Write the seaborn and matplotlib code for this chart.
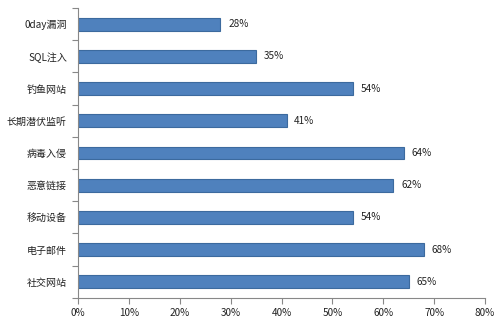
import matplotlib
matplotlib.use("Agg")
import matplotlib.pyplot as plt
import seaborn as sns
import pandas as pd
import numpy as np

categories = ["0day漏洞", "SQL注入", "钓鱼网站", "长期潜伏监听", "病毒入侵",
              "恶意链接", "移动设备", "电子邮件", "社交网站"]
values = [28, 35, 54, 41, 64, 62, 54, 68, 65]
xticks = [0, 10, 20, 30, 40, 50, 60, 70, 80]

sns.set_theme(style="white")
plt.rcParams['font.family'] = ['Noto Sans CJK SC', 'DejaVu Sans']

df = pd.DataFrame({"cat": categories, "val": values})

fig = plt.figure(figsize=(5, 3.22), dpi=100)
ax = fig.add_axes([0.156, 0.075, 0.814, 0.90])
sns.barplot(data=df, x="val", y="cat", orient="h", color="#4F81BD",
            saturation=1, width=0.4, edgecolor="#3C6A9E", linewidth=0.8, ax=ax)

ax.set_xlim(0, 80)
ax.set_ylim(len(categories) - 0.5, -0.5)
ax.set_xticks(xticks)
ax.set_xticklabels([f"{t}%" for t in xticks], fontsize=7.2, color="#222222")
ax.set_yticks(range(len(categories)))
ax.set_yticklabels(categories, fontsize=7.2, color="#222222")
ax.set_yticks(np.arange(-0.5, len(categories), 1), minor=True)
ax.tick_params(axis="y", which="major", length=0, pad=8)
ax.tick_params(axis="y", which="minor", length=4, color="#888888", width=0.8, direction="out", left=True)
ax.tick_params(axis="x", which="major", length=4, color="#888888", width=0.8, direction="out", bottom=True, pad=3)
ax.set_xlabel("")
ax.set_ylabel("")
for s in ["top", "right"]:
    ax.spines[s].set_visible(False)
for s in ["left", "bottom"]:
    ax.spines[s].set_color("#888888")
    ax.spines[s].set_linewidth(0.8)

for i, v in enumerate(values):
    ax.text(v + 1.5, i, f"{v}%", va="center", ha="left", fontsize=7.2, color="#222222")

fig.savefig("out.png", dpi=100)
